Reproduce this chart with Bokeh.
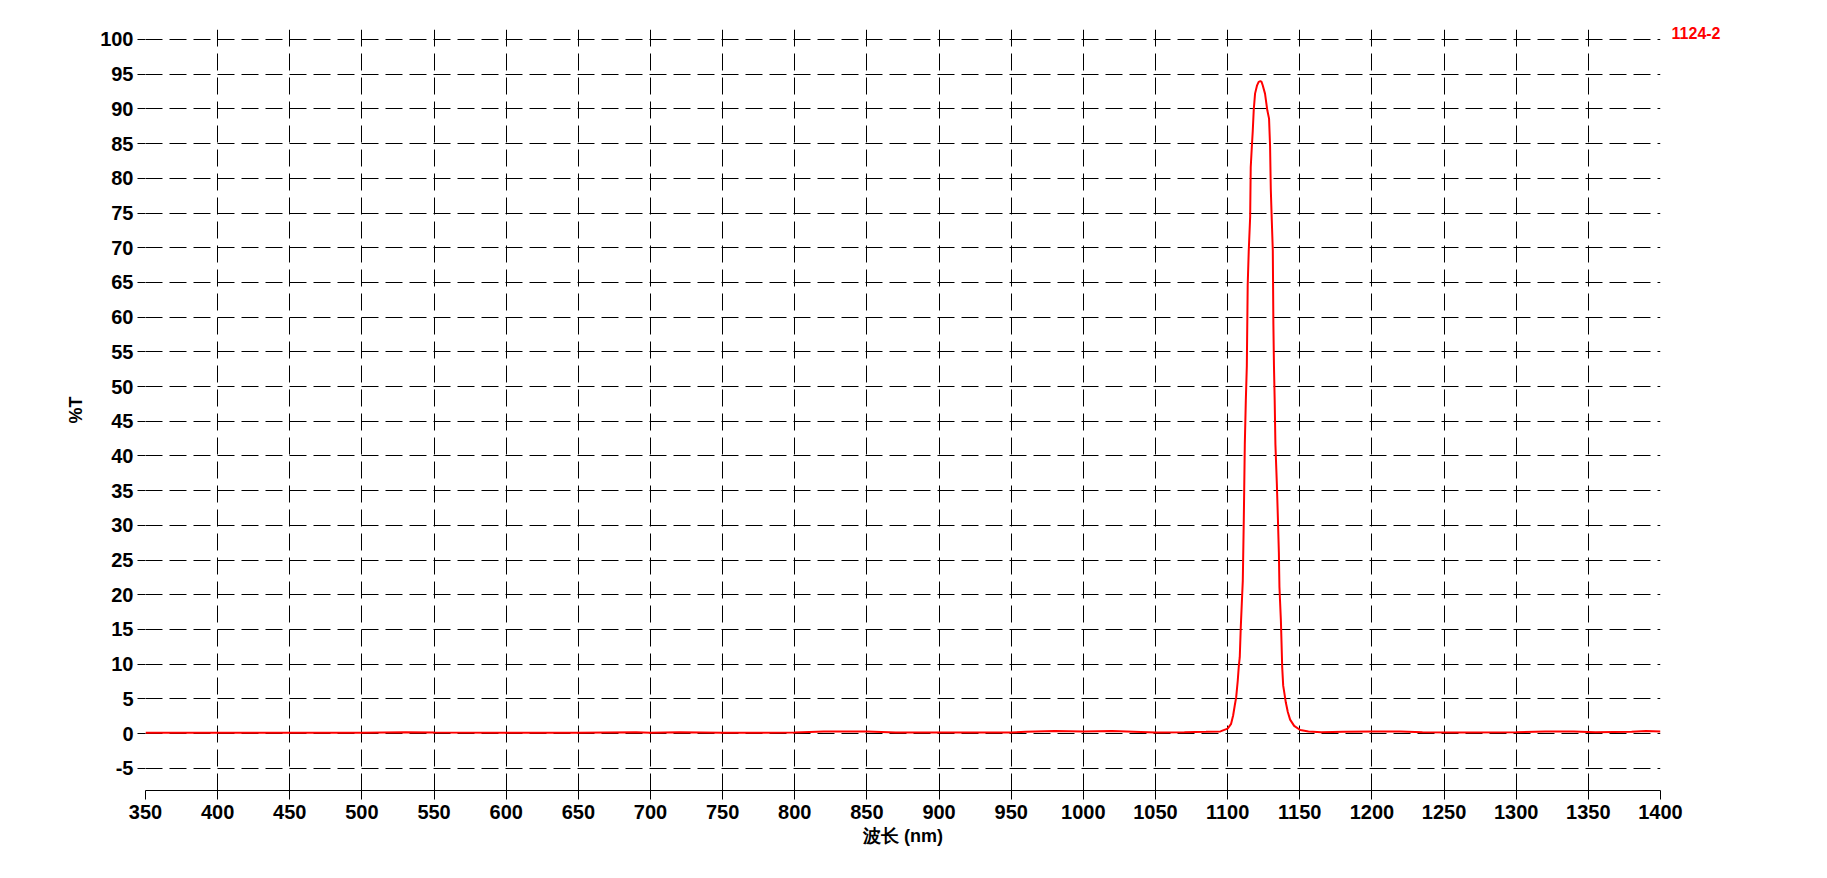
from bokeh.plotting import figure
from bokeh.embed import file_html
from bokeh.resources import INLINE
from bokeh.models import Range1d, FixedTicker, Title

# transmission spectrum (nm, %T)
wavelength = [
    350, 400, 450, 500, 530, 550, 600, 650, 690, 700, 720, 750, 800, 820, 835,
    850, 870, 900, 950, 960, 980, 1000, 1020, 1030, 1050, 1070, 1085, 1095,
    1100, 1102.4, 1103.8, 1104.9, 1105.9, 1107.0, 1107.7, 1108.4, 1109.1,
    1109.8, 1110.5, 1111.2, 1111.9, 1112.6, 1113.3, 1113.9, 1114.6, 1115.6,
    1116.0, 1116.7, 1117.4, 1118.1, 1119.0, 1120.4, 1121.5, 1122.7, 1123.5,
    1124.3, 1125.9, 1127.5, 1128.7, 1129.4, 1129.9, 1130.6, 1131.3, 1131.7,
    1132.1, 1132.6, 1133.1, 1134.1, 1134.8, 1135.5, 1135.9, 1136.4, 1136.9,
    1137.3, 1137.8, 1138.5, 1139.4, 1140.3, 1141.7, 1143.3, 1146.1, 1150.3,
    1156, 1165, 1180, 1200, 1220, 1235, 1260, 1300, 1320, 1340, 1355, 1380,
    1390, 1400,
]
transmittance = [
    0.1, 0.1, 0.1, 0.1, 0.2, 0.15, 0.1, 0.1, 0.2, 0.1, 0.2, 0.1, 0.15, 0.3, 0.3,
    0.3, 0.15, 0.15, 0.15, 0.25, 0.35, 0.3, 0.35, 0.3, 0.15, 0.2, 0.25, 0.3,
    0.7, 1.4, 2.6, 4.0, 5.2, 7.6, 9.6, 11.0, 15.3,
    18.7, 22.0, 30.9, 41.7, 48.0, 53.0, 64.6, 69.4, 74.4,
    81.6, 84.3, 86.8, 89.9, 92.2, 93.4, 93.9, 94.0, 93.9,
    93.4, 92.2, 89.8, 88.6, 84.7, 78.5, 73.9, 69.6, 59.0,
    53.0, 48.0, 41.7, 36.0, 31.2, 26.1, 21.1, 18.7, 16.3,
    13.4, 9.6, 6.9, 5.7, 4.5, 3.1, 2.0, 1.1, 0.5,
    0.3, 0.2, 0.25, 0.3, 0.3, 0.2, 0.15, 0.2, 0.3, 0.3, 0.2, 0.25,
    0.35, 0.3,
]
x_ticks = list(range(350, 1401, 50))
y_ticks = list(range(-5, 101, 5))
sample_name = "1124-2"

FONT = "Liberation Sans"

p = figure(
    title=None,
    frame_width=1515,
    frame_height=761,
    min_border_left=145,
    min_border_right=140,
    min_border_top=29,
    min_border_bottom=62,
    x_range=Range1d(350, 1400),
    y_range=Range1d(-8.21, 101.44),
    output_backend="svg",
    toolbar_location=None,
    tools="",
)
p.outline_line_color = None

p.grid.grid_line_color = "black"
p.grid.grid_line_width = 1
p.grid.grid_line_dash = "17 7"
p.xgrid.ticker = FixedTicker(ticks=x_ticks[:-1])
p.ygrid.ticker = FixedTicker(ticks=y_ticks)

p.line(wavelength, transmittance, color="red", line_width=2)

for ax in (p.xaxis[0], p.yaxis[0]):
    ax.major_label_text_font = FONT
    ax.major_label_text_font_style = "bold"
    ax.major_label_text_font_size = "20px"
    ax.major_label_text_color = "black"
    ax.axis_label_text_font = FONT
    ax.axis_label_text_font_style = "bold"
    ax.axis_label_text_font_size = "18px"
    ax.axis_label_text_color = "black"
    ax.major_tick_in = 0
    ax.major_tick_line_color = "black"
    ax.minor_tick_line_color = None

p.xaxis.ticker = FixedTicker(ticks=x_ticks)
p.xaxis.axis_label = "波长 (nm)"
p.xaxis.axis_line_color = "black"
p.xaxis.major_tick_out = 9
p.xaxis.major_label_standoff = 5
p.xaxis.axis_label_standoff = 4

p.yaxis.ticker = FixedTicker(ticks=y_ticks)
p.yaxis.major_label_overrides = {t: str(t) for t in y_ticks if t < 0}
p.yaxis.axis_label = "%T"
p.yaxis.axis_line_color = None
p.yaxis.major_tick_out = 8
p.yaxis.major_label_standoff = 4
p.yaxis.axis_label_standoff = 11

# sample tag to the right of the plot's top edge
p.add_layout(Title(
    text=sample_name, align="right", vertical_align="bottom",
    offset=-60, standoff=-19, text_color="red", text_font=FONT,
    text_font_style="bold", text_font_size="16px",
), "above")

open("out.html", "w").write(file_html(p, INLINE))
